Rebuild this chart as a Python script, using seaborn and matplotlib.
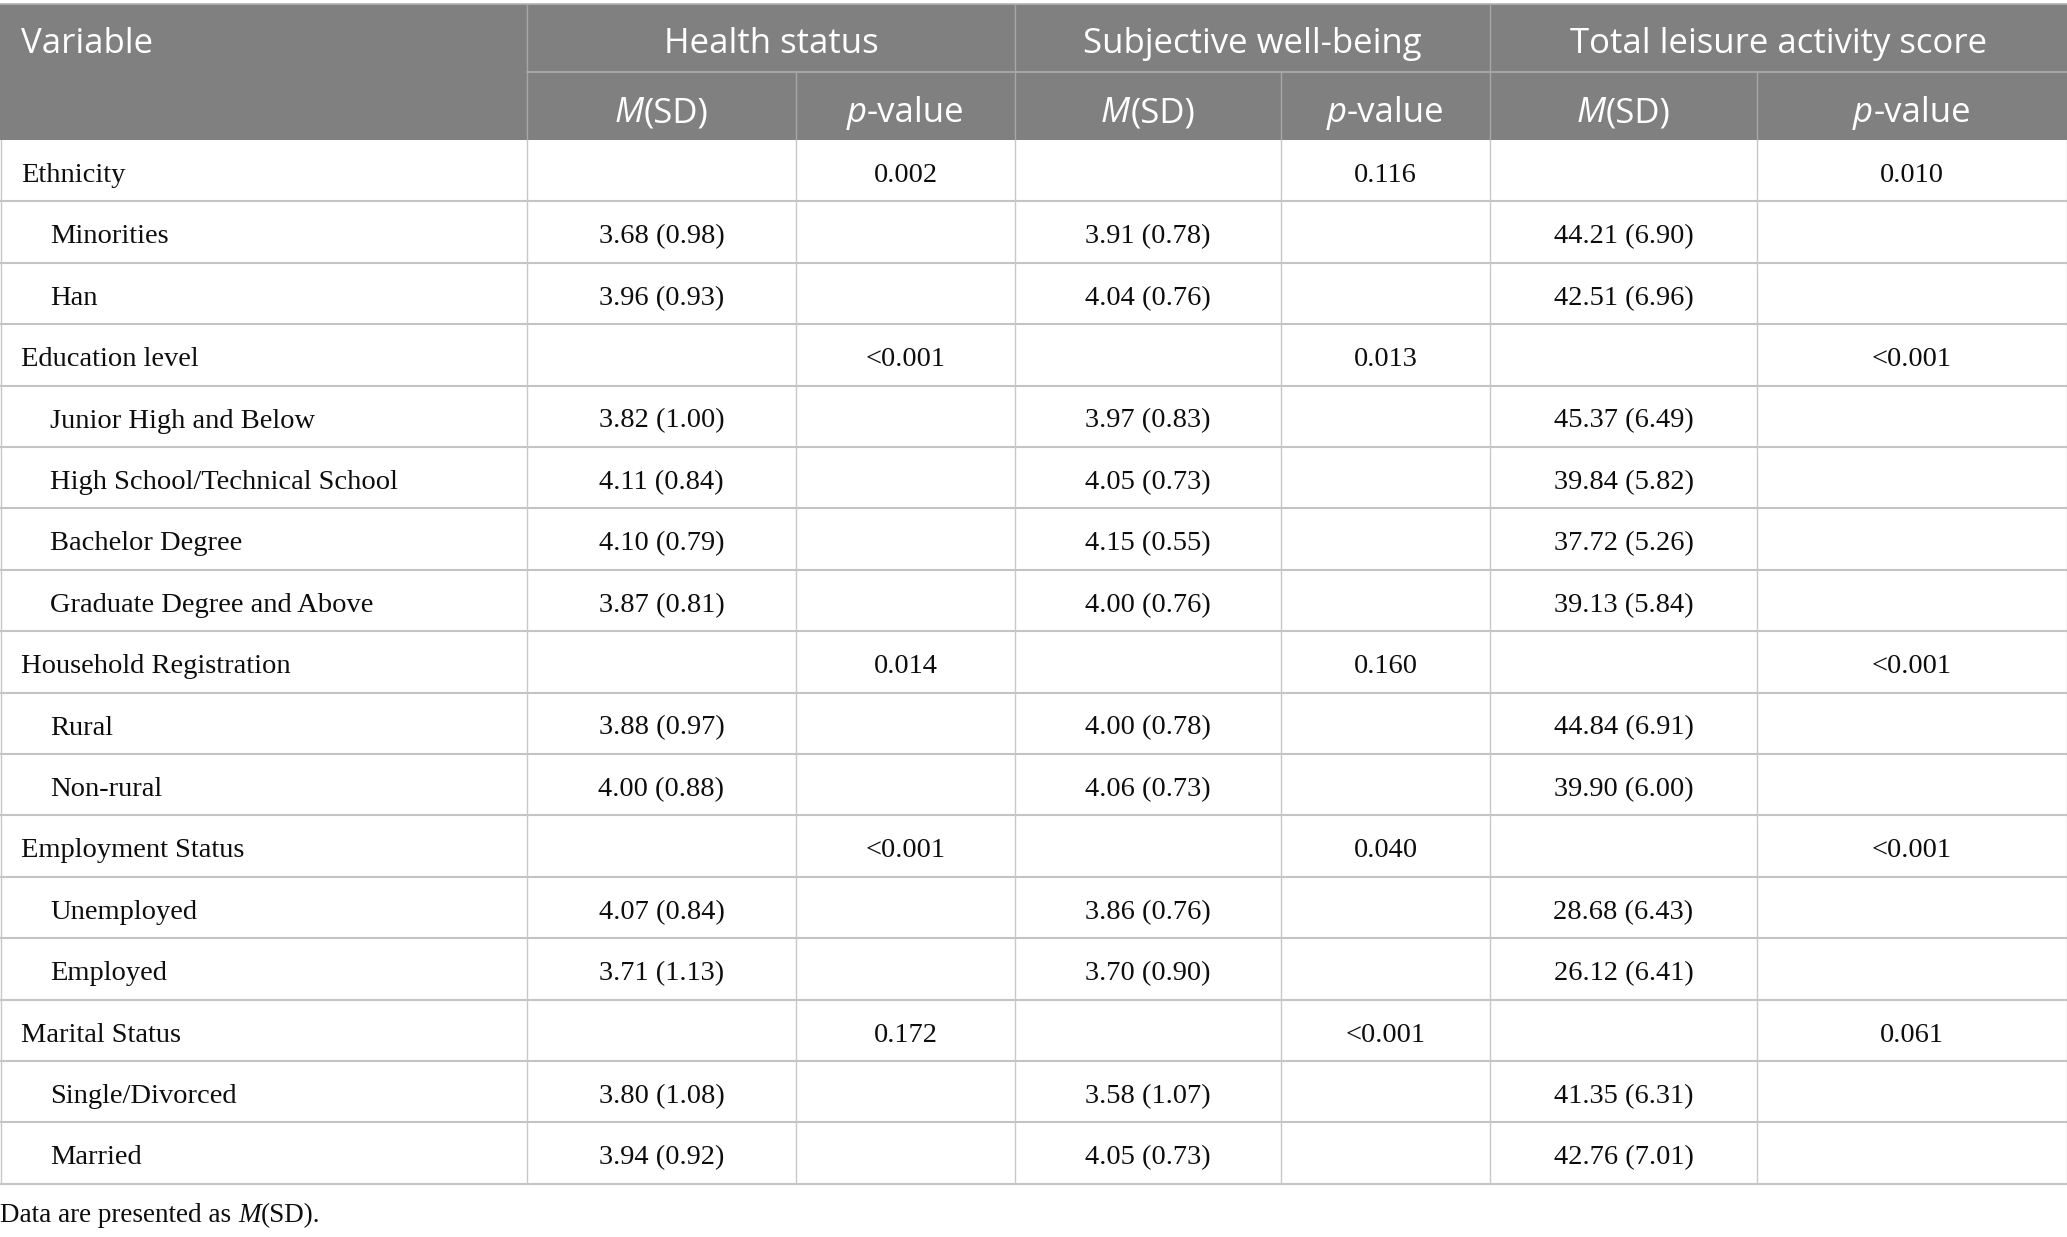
import matplotlib.pyplot as plt
import seaborn as sns
from matplotlib.patches import Rectangle

# Table contents
variables = ["Ethnicity", "Education level", "Household Registration",
             "Employment Status", "Marital Status"]
levels = [
    ["Minorities", "Han"],
    ["Junior High and Below", "High School/Technical School",
     "Bachelor Degree", "Graduate Degree and Above"],
    ["Rural", "Non-rural"],
    ["Unemployed", "Employed"],
    ["Single/Divorced", "Married"],
]
groups = ["Health status", "Subjective well-being", "Total leisure activity score"]

health_mean = [3.68, 3.96, 3.82, 4.11, 4.10, 3.87, 3.88, 4.00, 4.07, 3.71, 3.80, 3.94]
health_sd = [0.98, 0.93, 1.00, 0.84, 0.79, 0.81, 0.97, 0.88, 0.84, 1.13, 1.08, 0.92]
health_p = ["0.002", "<0.001", "0.014", "<0.001", "0.172"]

swb_mean = [3.91, 4.04, 3.97, 4.05, 4.15, 4.00, 4.00, 4.06, 3.86, 3.70, 3.58, 4.05]
swb_sd = [0.78, 0.76, 0.83, 0.73, 0.55, 0.76, 0.78, 0.73, 0.76, 0.90, 1.07, 0.73]
swb_p = ["0.116", "0.013", "0.160", "0.040", "<0.001"]

leisure_mean = [44.21, 42.51, 45.37, 39.84, 37.72, 39.13, 44.84, 39.90, 28.68, 26.12, 41.35, 42.76]
leisure_sd = [6.90, 6.96, 6.49, 5.82, 5.26, 5.84, 6.91, 6.00, 6.43, 6.41, 6.31, 7.01]
leisure_p = ["0.010", "<0.001", "<0.001", "<0.001", "0.061"]

means = [health_mean, swb_mean, leisure_mean]
sds = [health_sd, swb_sd, leisure_sd]
pvals = [health_p, swb_p, leisure_p]

sns.set_theme(style="white")
plt.rcParams["font.family"] = ["Liberation Serif", "DejaVu Serif"]

W, H = 2067, 1237
fig = plt.figure(figsize=(W / 100, H / 100), dpi=100)
ax = fig.add_axes([0, 0, 1, 1])
ax.set_xlim(0, W)
ax.set_ylim(H, 0)
ax.axis("off")
renderer = fig.canvas.get_renderer()

col_x = [0, 527, 796, 1015, 1281, 1490, 1757, W]
head_top, head_mid, head_bot = 4, 72, 140
row_h = 61.4

SANS = ["Open Sans", "DejaVu Sans"]
SERIF = ["Liberation Serif", "DejaVu Serif"]


def put(x, y, parts, ha="left", **kw):
    # parts = [(text, style), ...] drawn one after another on a baseline
    texts = [ax.text(0, y, s, fontstyle=st, va="baseline", ha="left", **kw)
             for s, st in parts]
    widths = [t.get_window_extent(renderer).width for t in texts]
    x0 = x - sum(widths) / 2 if ha == "center" else x
    for t, w in zip(texts, widths):
        t.set_x(x0)
        x0 += w


# build rows
rows = []
k = 0
for i, var in enumerate(variables):
    rows.append((var, 0, [("", pvals[g][i]) for g in range(3)]))
    for lev in levels[i]:
        cells = [(f"{means[g][k]:.2f} ({sds[g][k]:.2f})", "") for g in range(3)]
        rows.append((lev, 1, cells))
        k += 1

bottom = head_bot + row_h * len(rows)

# header
ax.add_patch(Rectangle((0, head_top), W, head_bot - head_top, color="#808080", lw=0))
ax.plot([0, W], [head_top, head_top], color="#b3b3b3", lw=1.2)
ax.plot([col_x[1], W], [head_mid, head_mid], color="#a8a8a8", lw=1.4)
for i in (1, 3, 5):
    ax.plot([col_x[i], col_x[i]], [head_top, head_bot], color="#a8a8a8", lw=1.0)
for i in (2, 4, 6):
    ax.plot([col_x[i], col_x[i]], [head_mid, head_bot], color="#a8a8a8", lw=1.0)

hkw = dict(family=SANS, fontsize=25, fontweight="normal", color="white")
put(21, 53, [("Variable", "normal")], **hkw)
for g, name in enumerate(groups):
    cx = (col_x[1 + 2 * g] + col_x[3 + 2 * g]) / 2
    put(cx, 53, [(name, "normal")], ha="center", **hkw)
    put((col_x[1 + 2 * g] + col_x[2 + 2 * g]) / 2, 122,
        [("M", "italic"), ("(SD)", "normal")], ha="center", **hkw)
    put((col_x[2 + 2 * g] + col_x[3 + 2 * g]) / 2, 122,
        [("p", "italic"), ("-value", "normal")], ha="center", **hkw)

# body
bkw = dict(family=SERIF, fontsize=20.5, color="#0d0d0d")
for r, (label, lev, cells) in enumerate(rows):
    top = head_bot + r * row_h
    put(50 if lev else 21, top + 42, [(label, "normal")], **bkw)
    for g, (msd, p) in enumerate(cells):
        if msd:
            put((col_x[1 + 2 * g] + col_x[2 + 2 * g]) / 2, top + 42,
                [(msd, "normal")], ha="center", **bkw)
        if p:
            put((col_x[2 + 2 * g] + col_x[3 + 2 * g]) / 2, top + 42,
                [(p, "normal")], ha="center", **bkw)
    ax.plot([0, W], [top + row_h, top + row_h], color="#c4c4c4", lw=1.5)

for i, x in enumerate(col_x):
    x = min(max(x, 0.5), W - 0.5)
    ax.plot([x, x], [head_bot, bottom], color="#c8c8c8", lw=1.0)

# footnote
put(0, 1222, [("Data are presented as ", "normal"), ("M", "italic"),
              ("(SD).", "normal")], family=SERIF, fontsize=19.5, color="#0d0d0d")

fig.savefig("out.png", dpi=100)
